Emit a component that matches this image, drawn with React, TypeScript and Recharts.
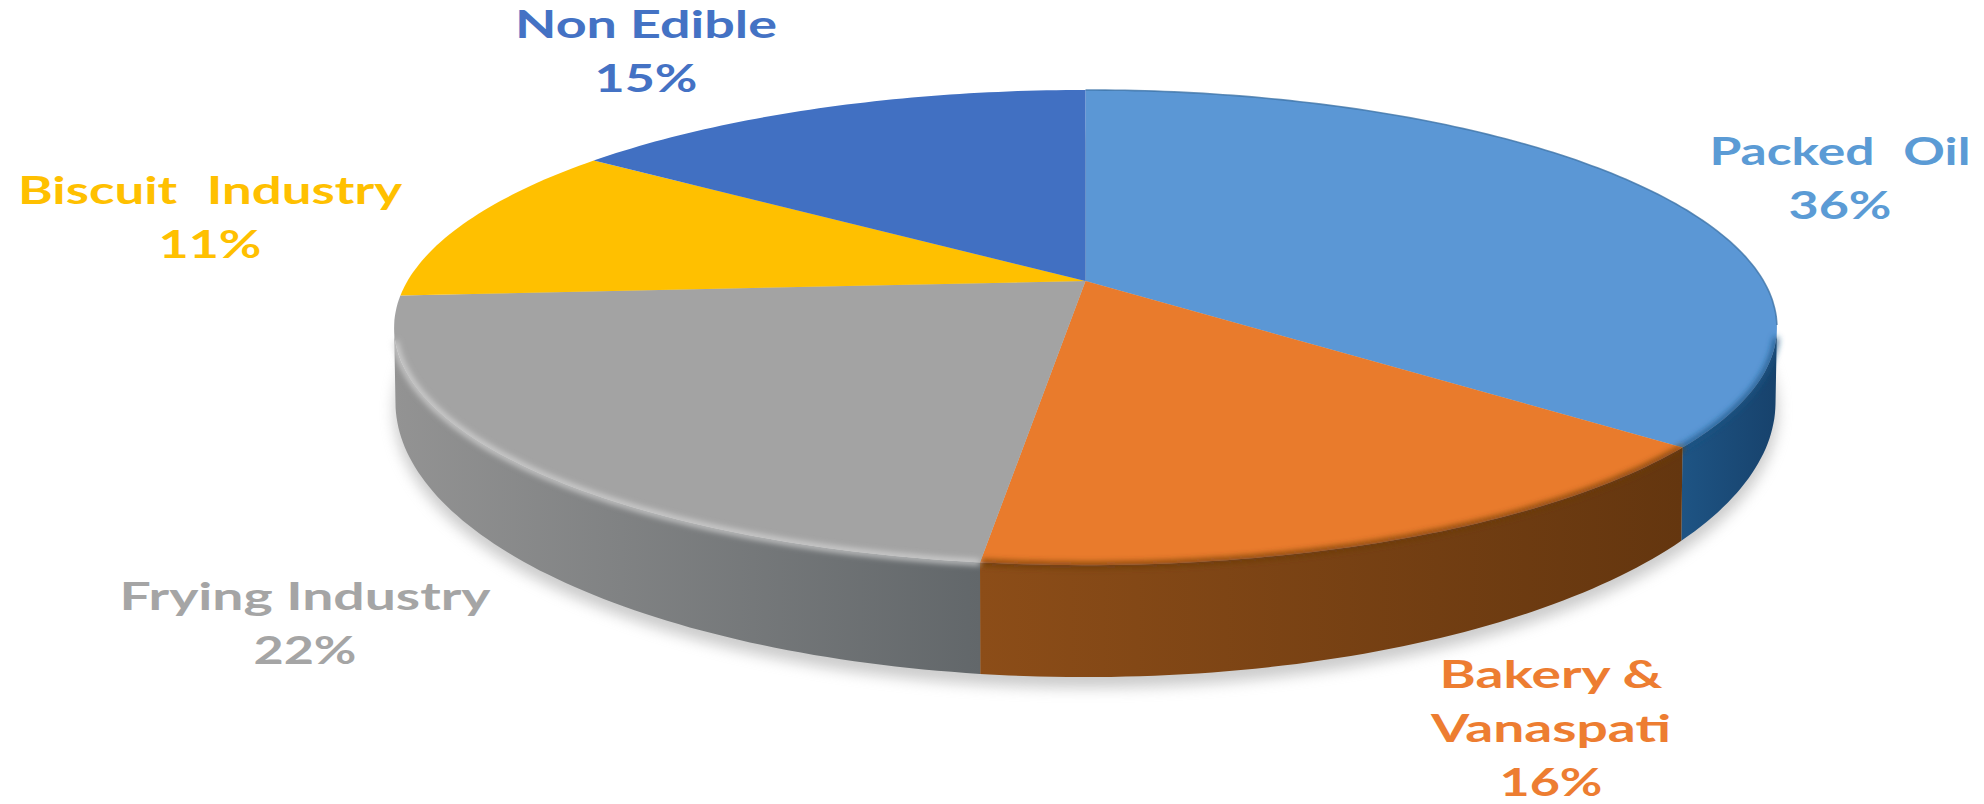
import React from 'react';
import { Pie, PieChart } from 'recharts';

const categories = ['Packed Oil', 'Bakery & Vanaspati', 'Frying Industry', 'Biscuit Industry', 'Non Edible'];
const shares = [36, 16, 22, 11, 15];

const faceColors = ['#5B97D5', '#E97B2C', '#A3A3A3', '#FFC000', '#4170C2'];
const labelColors = ['#5B9BD5', '#ED7D31', '#A5A5A5', '#FFC000', '#4472C4'];
const wallStart = ['#1E5484', '#8C4D18', '#939393', '#A88000', '#2C4C86'];
const wallEnd = ['#17426C', '#64360F', '#62676A', '#A88000', '#2C4C86'];
const rimColors = ['#1E5484', '#6B3A10', '#D8D8D8', '#FFC000', '#4170C2'];

// label text lines and where each block sits on the page
const labelLines = [['Packed Oil'], ['Bakery &', 'Vanaspati'], ['Frying Industry'], ['Biscuit Industry'], ['Non Edible']];
const labelBoxes = [
  { x: 1840, y: 165, widths: [261], wordSpacing: 12 },
  { x: 1551, y: 688, widths: [223, 240], wordSpacing: 0 },
  { x: 305, y: 610, widths: [371], wordSpacing: 0 },
  { x: 210, y: 204, widths: [384], wordSpacing: 12 },
  { x: 646, y: 38, widths: [262], wordSpacing: 0 },
];
const PERCENT_WIDTH = 103;
const LINE_HEIGHT = 54;

const chartData = categories.map((name, i) => ({ name, value: shares[i] }));

// tilt of the disc: vertical squash and perspective strength
const SQUASH = 0.337;
const PERSPECTIVE = 0.196;
// bottom edge of the disc, relative to the top ellipse
const WALL_DROP = 74.5;
const WALL_WIDTH_RATIO = 0.998;
const WALL_HEIGHT = 275;

type Pt = { x: number; y: number; ex: number; ey: number };

function project(cx: number, cy: number, r: number, angle: number): Pt {
  const rad = ((90 - angle) * Math.PI) / 180;
  const u = Math.sin(rad);
  const v = -Math.cos(rad);
  const w = 1 - PERSPECTIVE * v;
  const x = cx + (r * u) / w;
  const y = cy + (r * SQUASH * v) / w;
  const k = 1 - PERSPECTIVE * PERSPECTIVE;
  const a = r / Math.sqrt(k);
  const b = (r * SQUASH) / k;
  const midY = cy + (r * SQUASH * PERSPECTIVE) / k;
  return { x, y, ex: (x - cx) / a, ey: (y - midY) / b };
}

function bottomOf(p: Pt, cx: number, cy: number, r: number) {
  const k = 1 - PERSPECTIVE * PERSPECTIVE;
  const a = r / Math.sqrt(k);
  const midY = cy + (r * SQUASH * PERSPECTIVE) / k;
  return { x: cx + p.ex * a * WALL_WIDTH_RATIO, y: midY + WALL_DROP + p.ey * WALL_HEIGHT };
}

const toPath = (pts: { x: number; y: number }[]) =>
  pts.map((p, i) => `${i === 0 ? 'M' : 'L'}${p.x.toFixed(1)} ${p.y.toFixed(1)}`).join(' ');

// One slice of the tilted disc: side wall, top face, and the soft rim between them
function DiscSlice(props: any) {
  const { cx, cy, outerRadius, startAngle, endAngle, index, fill } = props;
  const steps = Math.max(8, Math.ceil(Math.abs(endAngle - startAngle)));
  const arc: Pt[] = [];
  for (let s = 0; s <= steps; s++) {
    arc.push(project(cx, cy, outerRadius, startAngle + ((endAngle - startAngle) * s) / steps));
  }
  const front = arc.filter((p) => p.ey >= 0.04);
  const back = arc.filter((p) => p.ey < 0);
  const hasWall = front.length > 1;
  const wallEdge = arc.filter((p) => p.ey >= 0);
  const wall = hasWall
    ? toPath([...wallEdge, ...[...wallEdge].reverse().map((p) => bottomOf(p, cx, cy, outerRadius))]) + ' Z'
    : '';
  const gradientId = `wall-${index}`;
  const leftToRight = hasWall && wallEdge[0].x < wallEdge[wallEdge.length - 1].x;
  return (
    <g>
      <defs>
        <linearGradient id={gradientId} x1="0" y1="0" x2="1" y2="0">
          <stop offset="0" stopColor={leftToRight ? wallEnd[index] : wallStart[index]} />
          <stop offset="1" stopColor={leftToRight ? wallStart[index] : wallEnd[index]} />
        </linearGradient>
        <filter id={`rim-${index}`} x="-10%" y="-20%" width="120%" height="140%">
          <feGaussianBlur stdDeviation="3" />
        </filter>
      </defs>
      {hasWall && <path d={wall} fill={`url(#${gradientId})`} />}
      <path d={`${toPath([{ x: cx, y: cy }, ...arc])} Z`} fill={fill} />
      {hasWall && (
        <path
          d={toPath(front)}
          fill="none"
          stroke={rimColors[index]}
          strokeWidth={5}
          filter={`url(#rim-${index})`}
        />
      )}
      {index === 0 && back.length > 1 && (
        <path d={toPath(back)} fill="none" stroke="#3F74A8" strokeWidth={1.6} opacity={0.8} />
      )}
    </g>
  );
}

function SliceLabel(props: any) {
  const { index, value } = props;
  const box = labelBoxes[index];
  const lines = labelLines[index];
  const common = {
    x: box.x,
    textAnchor: 'middle' as const,
    fill: labelColors[index],
    fontFamily: 'Lato, "Open Sans", sans-serif',
    fontWeight: 700,
    fontSize: 38,
    lengthAdjust: 'spacingAndGlyphs',
  };
  return (
    <g>
      {lines.map((line, i) => (
        <text
          key={line}
          {...common}
          y={box.y + i * LINE_HEIGHT}
          textLength={box.widths[i]}
          wordSpacing={box.wordSpacing}
        >
          {line}
        </text>
      ))}
      <text {...common} y={box.y + lines.length * LINE_HEIGHT} textLength={PERCENT_WIDTH}>
        {`${value}%`}
      </text>
    </g>
  );
}

export default function App() {
  return (
    <div style={{ position: 'absolute', left: 0, top: 0, width: 1984, height: 804, background: '#fff' }}>
      <PieChart width={1984} height={804} margin={{ top: 0, right: 0, bottom: 0, left: 0 }}>
        <defs>
          <filter id="disc-shadow" x="-10%" y="-10%" width="120%" height="130%">
            <feGaussianBlur stdDeviation="7" />
          </filter>
        </defs>
        <ellipse cx={1086} cy={411} rx={692} ry={277} fill="#9A9A9A" opacity={0.5} filter="url(#disc-shadow)" />
        <Pie
          data={chartData}
          dataKey="value"
          nameKey="name"
          cx={1085.5}
          cy={281}
          outerRadius={678}
          startAngle={90}
          endAngle={-270}
          stroke="none"
          isAnimationActive={false}
          labelLine={false}
          label={SliceLabel}
          shape={(props: any) => <DiscSlice {...props} fill={faceColors[props.index]} />}
        />
      </PieChart>
    </div>
  );
}
